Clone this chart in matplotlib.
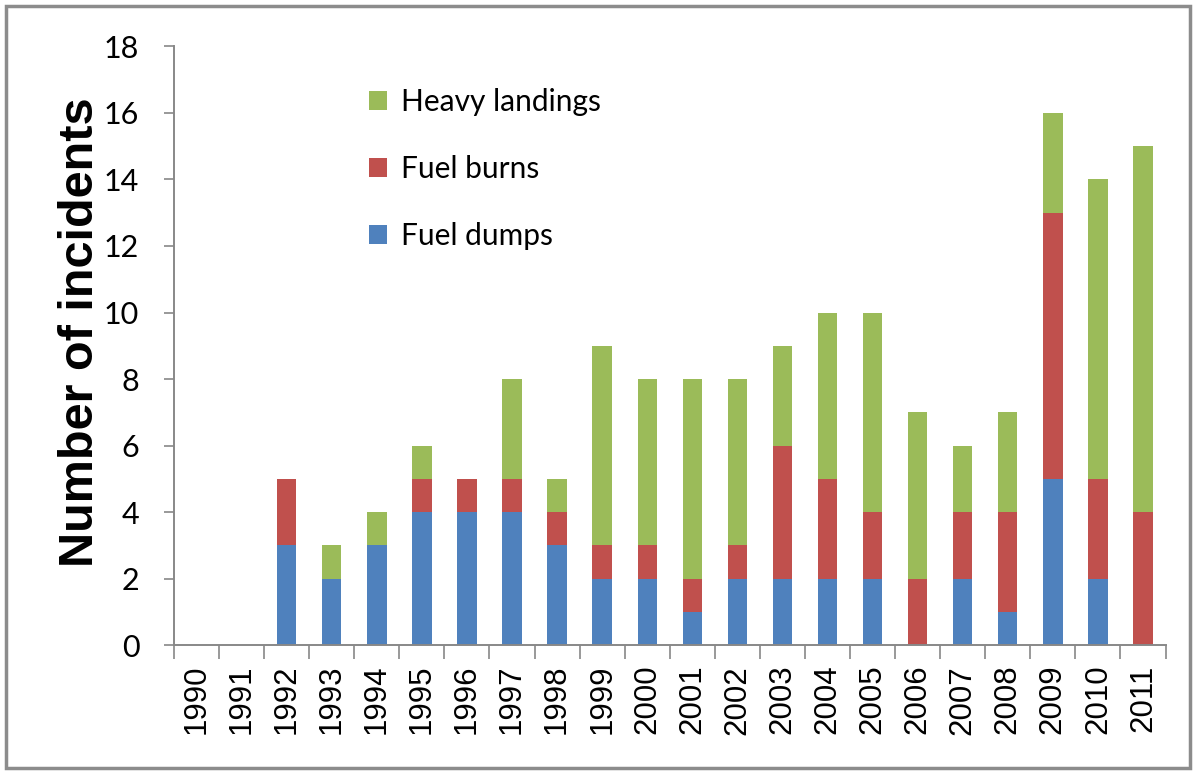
import numpy as np
import matplotlib
matplotlib.use('Agg')
import matplotlib.pyplot as plt
from matplotlib.patches import Rectangle

# Incident counts per year
years = [str(y) for y in range(1990, 2012)]
fuel_dumps = [0, 0, 3, 2, 3, 4, 4, 4, 3, 2, 2, 1, 2, 2, 2, 2, 0, 2, 1, 5, 2, 0]
fuel_burns = [0, 0, 2, 0, 0, 1, 1, 1, 1, 1, 1, 1, 1, 4, 3, 2, 2, 2, 3, 8, 3, 4]
heavy_landings = [0, 0, 0, 1, 1, 1, 0, 3, 1, 6, 5, 6, 5, 3, 5, 6, 5, 2, 3, 3, 9, 11]

plt.rcParams['font.family'] = ['Lato', 'DejaVu Sans']

fig = plt.figure(figsize=(11.96, 7.71), dpi=100)
ax = fig.add_axes([0.1455, 0.163, 0.829, 0.777])

x = np.arange(len(years))
w = 0.43
dumps = np.array(fuel_dumps)
burns = np.array(fuel_burns)
heavy = np.array(heavy_landings)

b1 = ax.bar(x, dumps, w, color='#4F81BD', label='Fuel dumps')
b2 = ax.bar(x, burns, w, bottom=dumps, color='#C0504D', label='Fuel burns')
b3 = ax.bar(x, heavy, w, bottom=dumps + burns, color='#9BBB59', label='Heavy landings')

ax.set_xlim(-0.5, len(years) - 0.5)
ax.set_ylim(0, 18)
ax.set_yticks(range(0, 19, 2))
ax.set_xticks(np.arange(-0.5, len(years), 1), minor=True)
ax.set_xticks(x)
ax.tick_params(axis='x', which='major', length=0, pad=14,
               labelsize=22.5, labelfontfamily='Liberation Sans')
ax.tick_params(axis='x', which='minor', length=10, width=1.2, color='#888888')
ax.tick_params(axis='y', length=7, width=1.2, color='#888888', labelsize=22, pad=18)
# labels set last so the tick_params calls cannot reset them
ax.set_xticklabels(years, rotation=90, fontsize=22.5, family='Liberation Sans')

for s in ['top', 'right']:
    ax.spines[s].set_visible(False)
for s in ['left', 'bottom']:
    ax.spines[s].set_color('#888888')
    ax.spines[s].set_linewidth(1.4)

ax.set_ylabel('Number of incidents', fontsize=35, fontweight='bold',
              family='Liberation Sans')
ax.yaxis.set_label_coords(-0.072, 0.523)

ax.legend(handles=[b3, b2, b1], loc='upper left', bbox_to_anchor=(0.17, 0.975),
          frameon=False, fontsize=21.5, labelspacing=1.3, handlelength=0.6,
          handleheight=0.6, handletextpad=0.45)

# grey outer frame of the chart area
fig.patches.append(Rectangle((0.005, 0.004), 0.99, 0.988, transform=fig.transFigure,
                             fill=False, edgecolor='#8c8c8c', linewidth=2.5))

fig.savefig('out.png', dpi=100)
